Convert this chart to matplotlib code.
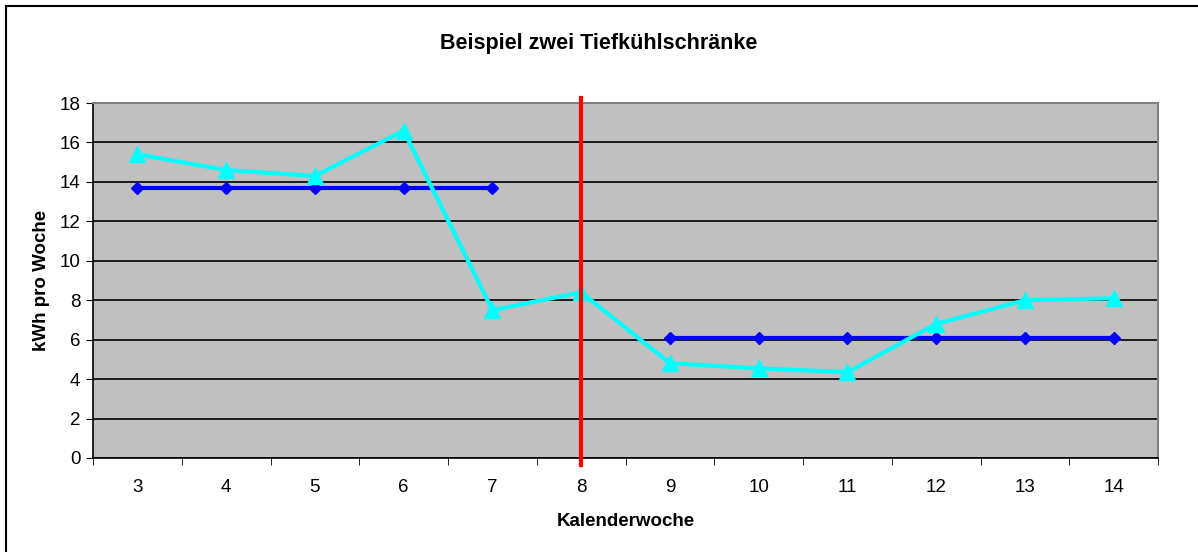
import numpy as np
import matplotlib.pyplot as plt
from matplotlib.patches import Rectangle

plt.rcParams['font.family'] = ['Liberation Sans', 'DejaVu Sans']

weeks = [3, 4, 5, 6, 7, 8, 9, 10, 11, 12, 13, 14]
measured = [15.4, 14.6, 14.3, 16.6, 7.5, 8.4, 4.8, 4.55, 4.35, 6.8, 8.0, 8.1]
avg_weeks_1 = [3, 4, 5, 6, 7]
avg_1 = [13.7, 13.7, 13.7, 13.7, 13.7]
avg_weeks_2 = [9, 10, 11, 12, 13, 14]
avg_2 = [6.1, 6.1, 6.1, 6.1, 6.1, 6.1]
switch_week = 8

fig = plt.figure(figsize=(11.98, 5.52), dpi=100)
ax = fig.add_axes([93/1198, 1-458/552, (1158-93)/1198, (458-103)/552])

# outer border (only left/top visible)
fig.patches.append(Rectangle((6/1198, -0.1), 1.2, 1-6/552+0.1, transform=fig.transFigure,
                             fill=False, edgecolor='black', linewidth=1.5))

ax.set_facecolor('#c0c0c0')
ax.plot(avg_weeks_1, avg_1, color='#0000ff', linewidth=3, marker='D', markersize=6, zorder=3)
ax.plot(avg_weeks_2, avg_2, color='#0000ff', linewidth=3, marker='D', markersize=6, zorder=3)
ax.plot(weeks, measured, color='#00ffff', linewidth=3, marker='^', markersize=12, zorder=4)
ax.plot([switch_week, switch_week], [18.25, -0.35], color='#ff0000', linewidth=3,
        clip_on=False, zorder=5)

ax.set_xlim(2.5, 14.5)
ax.set_ylim(0, 18)
ax.set_yticks(np.arange(0, 19, 2))
ax.set_xticks(weeks)
ax.set_xticks(np.arange(2.5, 15, 1), minor=True)
ax.tick_params(axis='x', which='major', length=0, pad=15, labelsize=13.5)
ax.tick_params(axis='x', which='minor', length=5, direction='out')
ax.tick_params(axis='y', length=5, direction='out', labelsize=13.5, pad=4)
ax.yaxis.grid(True, color='black', linewidth=1.2)
ax.set_axisbelow(True)

for s in ['top', 'right']:
    ax.spines[s].set_color('#808080')
    ax.spines[s].set_linewidth(1.5)
for s in ['left', 'bottom']:
    ax.spines[s].set_color('black')
    ax.spines[s].set_linewidth(1.2)

ax.set_ylabel('kWh pro Woche', fontsize=13.5, fontweight='bold', labelpad=7)
ax.set_xlabel('Kalenderwoche', fontsize=13.5, fontweight='bold', labelpad=12)
fig.text(0.5, 1-43/552, 'Beispiel zwei Tiefkühlschränke', ha='center', va='center',
         fontsize=15.5, fontweight='bold')

fig.savefig('out.png', dpi=100)
